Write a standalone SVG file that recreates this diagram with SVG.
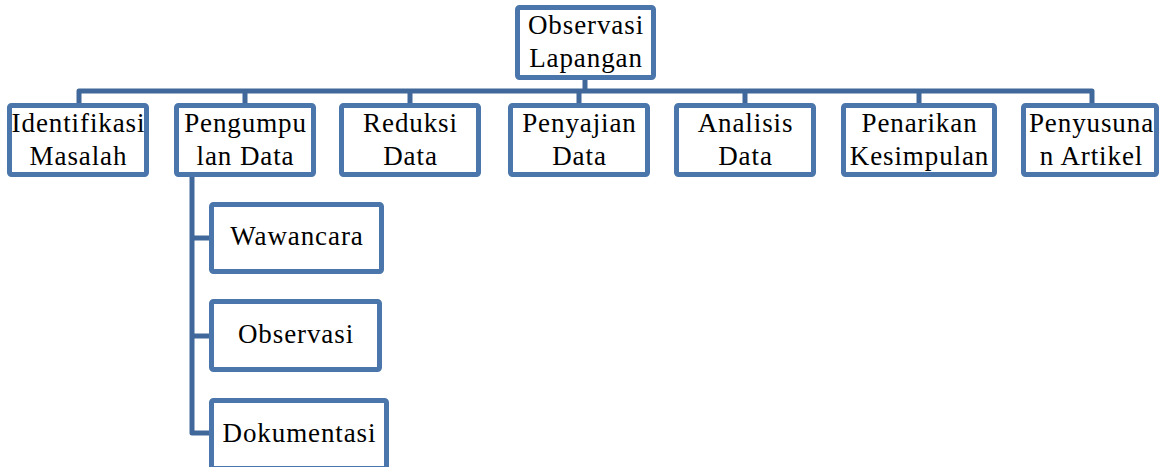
<svg xmlns="http://www.w3.org/2000/svg" width="1159" height="467" viewBox="0 0 1159 467">
<style>
.box{fill:#fff;stroke:#4a76ac;stroke-width:5}
.t{font-family:'Liberation Serif','DejaVu Serif',serif;font-size:27px;letter-spacing:0.9px;fill:#000;text-anchor:middle}
.c{fill:none;stroke:#40689a;stroke-width:5;stroke-linejoin:round}
</style>
<rect width="1159" height="467" fill="#fff"/>
<g id="connectors">
<path class="c" d="M585 80V91M79 103V91H1092V103M245 91V103M410 91V103M579 91V103M745 91V103M919 91V103"/>
<path class="c" d="M192 177V433H209M192 238H209M192 336H209"/>
</g>
<g id="observasi-lapangan"><rect class="box" x="517.5" y="7.5" width="136" height="70" rx="2"/><text class="t" x="586" y="34">Observasi</text><text class="t" x="586" y="67">Lapangan</text></g>
<g id="identifikasi"><rect class="box" x="9.5" y="105.5" width="137" height="69" rx="2"/><text class="t" x="78.5" y="132">Identifikasi</text><text class="t" x="78.5" y="165">Masalah</text></g>
<g id="pengumpulan"><rect class="box" x="176.5" y="105.5" width="137" height="69" rx="2"/><text class="t" x="245.5" y="132">Pengumpu</text><text class="t" x="245.5" y="165">lan Data</text></g>
<g id="reduksi"><rect class="box" x="341.5" y="105.5" width="137" height="69" rx="2"/><text class="t" x="410.5" y="132">Reduksi</text><text class="t" x="410.5" y="165">Data</text></g>
<g id="penyajian"><rect class="box" x="510.5" y="105.5" width="137" height="69" rx="2"/><text class="t" x="579.5" y="132">Penyajian</text><text class="t" x="579.5" y="165">Data</text></g>
<g id="analisis"><rect class="box" x="676.5" y="105.5" width="137" height="69" rx="2"/><text class="t" x="745.5" y="132">Analisis</text><text class="t" x="745.5" y="165">Data</text></g>
<g id="penarikan"><rect class="box" x="843.5" y="105.5" width="151" height="69" rx="2"/><text class="t" x="919.5" y="132">Penarikan</text><text class="t" x="919.5" y="165">Kesimpulan</text></g>
<g id="penyusunan"><rect class="box" x="1023.5" y="105.5" width="133" height="69" rx="2"/><text class="t" x="1091.5" y="132">Penyusuna</text><text class="t" x="1091.5" y="165">n Artikel</text></g>
<g id="wawancara"><rect class="box" x="211.5" y="204.5" width="170" height="67" rx="2"/><text class="t" x="297" y="245">Wawancara</text></g>
<g id="observasi"><rect class="box" x="211.5" y="301.5" width="168" height="68" rx="2"/><text class="t" x="296" y="343">Observasi</text></g>
<g id="dokumentasi"><rect class="box" x="211.5" y="400.5" width="175" height="68" rx="2"/><text class="t" x="299.5" y="442">Dokumentasi</text></g>
</svg>
